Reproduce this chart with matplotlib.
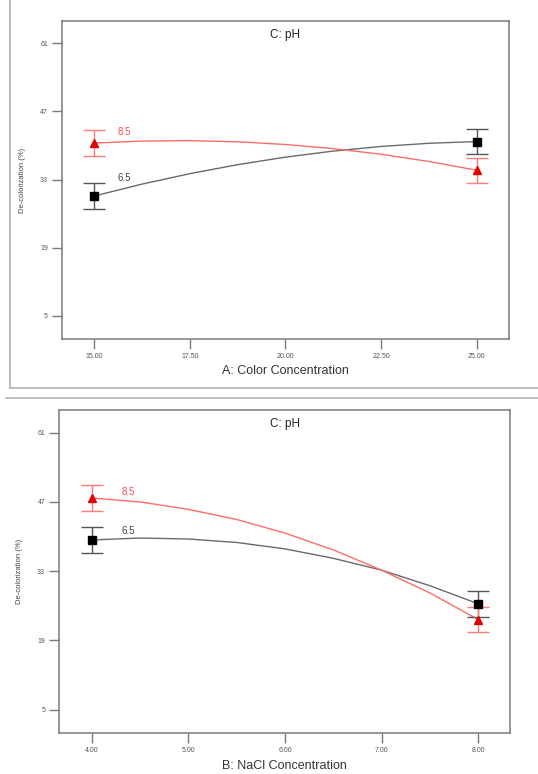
import numpy as np
import matplotlib.pyplot as plt
from matplotlib.lines import Line2D

plt.rcParams['font.family'] = ['Liberation Sans', 'DejaVu Sans']

# Panel 1: A: Color Concentration
color_x = [15.0, 16.25, 17.5, 18.75, 20.0, 21.25, 22.5, 23.75, 25.0]
color_ph65_curve = [29.6, 32.05, 34.2, 36.05, 37.6, 38.85, 39.8, 40.45, 40.8]
color_ph85_curve = [40.5, 40.9, 41.0, 40.75, 40.2, 39.35, 38.2, 36.7, 34.9]
color_pts_x = [15.0, 25.0]
color_ph65_pts = [29.6, 40.8]
color_ph65_err = [2.65, 2.55]
color_ph85_pts = [40.5, 34.9]
color_ph85_err = [2.6, 2.6]
color_ticks = [15.0, 17.5, 20.0, 22.5, 25.0]

# Panel 2: B: NaCl Concentration
nacl_x = [4.0, 4.5, 5.0, 5.5, 6.0, 6.5, 7.0, 7.5, 8.0]
nacl_ph65_curve = [39.3, 39.7, 39.5, 38.8, 37.5, 35.6, 33.2, 30.05, 26.4]
nacl_ph85_curve = [47.8, 47.0, 45.5, 43.45, 40.7, 37.3, 33.2, 28.6, 23.2]
nacl_pts_x = [4.0, 8.0]
nacl_ph65_pts = [39.3, 26.4]
nacl_ph65_err = [2.55, 2.6]
nacl_ph85_pts = [47.8, 23.2]
nacl_ph85_err = [2.6, 2.55]
nacl_ticks = [4.0, 5.0, 6.0, 7.0, 8.0]

y_ticks = [5, 19, 33, 47, 61]

BLACK_LINE = "#6a6a6a"
BLACK_ERR = "#555555"
RED_LINE = "#ff6b6b"
RED_ERR = "#ff7a7a"
SPINE = "#7a7a7a"


def draw_panel(ax, x, c65, c85, px, p65, e65, p85, e85, xticks, xlim, xlabel,
               lab_x, off85, off65):
    ax.plot(x, c65, color=BLACK_LINE, lw=1.0, zorder=2)
    ax.plot(x, c85, color=RED_LINE, lw=1.0, zorder=2)
    ax.errorbar(px, p65, yerr=e65, fmt="none", ecolor=BLACK_ERR, elinewidth=1.0,
                capsize=8, capthick=1.0, zorder=3)
    ax.errorbar(px, p85, yerr=e85, fmt="none", ecolor=RED_ERR, elinewidth=1.0,
                capsize=8, capthick=1.0, zorder=3)
    ax.plot(px, p65, "s", color="black", ms=5.5, zorder=4)
    ax.plot(px, p85, "^", color="#e00000", ms=6, zorder=4)

    ax.set_xlim(*xlim)
    ax.set_ylim(0.2, 65.6)
    ax.set_xticks(xticks)
    ax.set_xticklabels([f"{t:.2f}" for t in xticks])
    ax.set_yticks(y_ticks)
    ax.tick_params(direction="out", length=7, width=1.0, color=SPINE,
                   labelsize=5, labelcolor="#555555", pad=3)
    for s in ax.spines.values():
        s.set_color(SPINE)
        s.set_linewidth(1.1)

    ax.set_xlabel(xlabel, fontsize=9, color="#333333", labelpad=4)
    ax.set_ylabel("De-colorization (%)", fontsize=5.5, color="#444444", labelpad=10)
    ax.text(0.5, 0.975, "C: pH", transform=ax.transAxes, ha="center", va="top",
            fontsize=8.5, color="#222222")

    # series labels near the left points
    ax.text(lab_x, p85[0] + off85, "8.5", color="#ff4a4a", fontsize=7, ha="center", va="center")
    ax.text(lab_x, p65[0] + off65, "6.5", color="#444444", fontsize=7, ha="center", va="center")


fig = plt.figure(figsize=(5.38, 7.74), dpi=100)

ax1 = fig.add_axes([0.1152, 0.562, 0.8309, 0.4109])
draw_panel(ax1, color_x, color_ph65_curve, color_ph85_curve, color_pts_x,
           color_ph65_pts, color_ph65_err, color_ph85_pts, color_ph85_err,
           color_ticks, (14.16, 25.84), "A: Color Concentration", 15.8, 2.3, 3.8)

ax2 = fig.add_axes([0.1097, 0.0526, 0.8383, 0.4177])
draw_panel(ax2, nacl_x, nacl_ph65_curve, nacl_ph85_curve, nacl_pts_x,
           nacl_ph65_pts, nacl_ph65_err, nacl_ph85_pts, nacl_ph85_err,
           nacl_ticks, (3.66, 8.33), "B: NaCl Concentration", 4.375, 1.3, 1.9)

# outer frames around the two pasted images
frame = "#b0b0b0"
fig.add_artist(Line2D([10 / 538, 10 / 538], [1.0, 1 - 388 / 774], color=frame, lw=1.2))
fig.add_artist(Line2D([10 / 538, 1.0], [1 - 388 / 774, 1 - 388 / 774], color=frame, lw=1.2))
fig.add_artist(Line2D([6 / 538, 1.0], [1 - 398 / 774, 1 - 398 / 774], color=frame, lw=1.2))

fig.savefig("out.png", dpi=100)
